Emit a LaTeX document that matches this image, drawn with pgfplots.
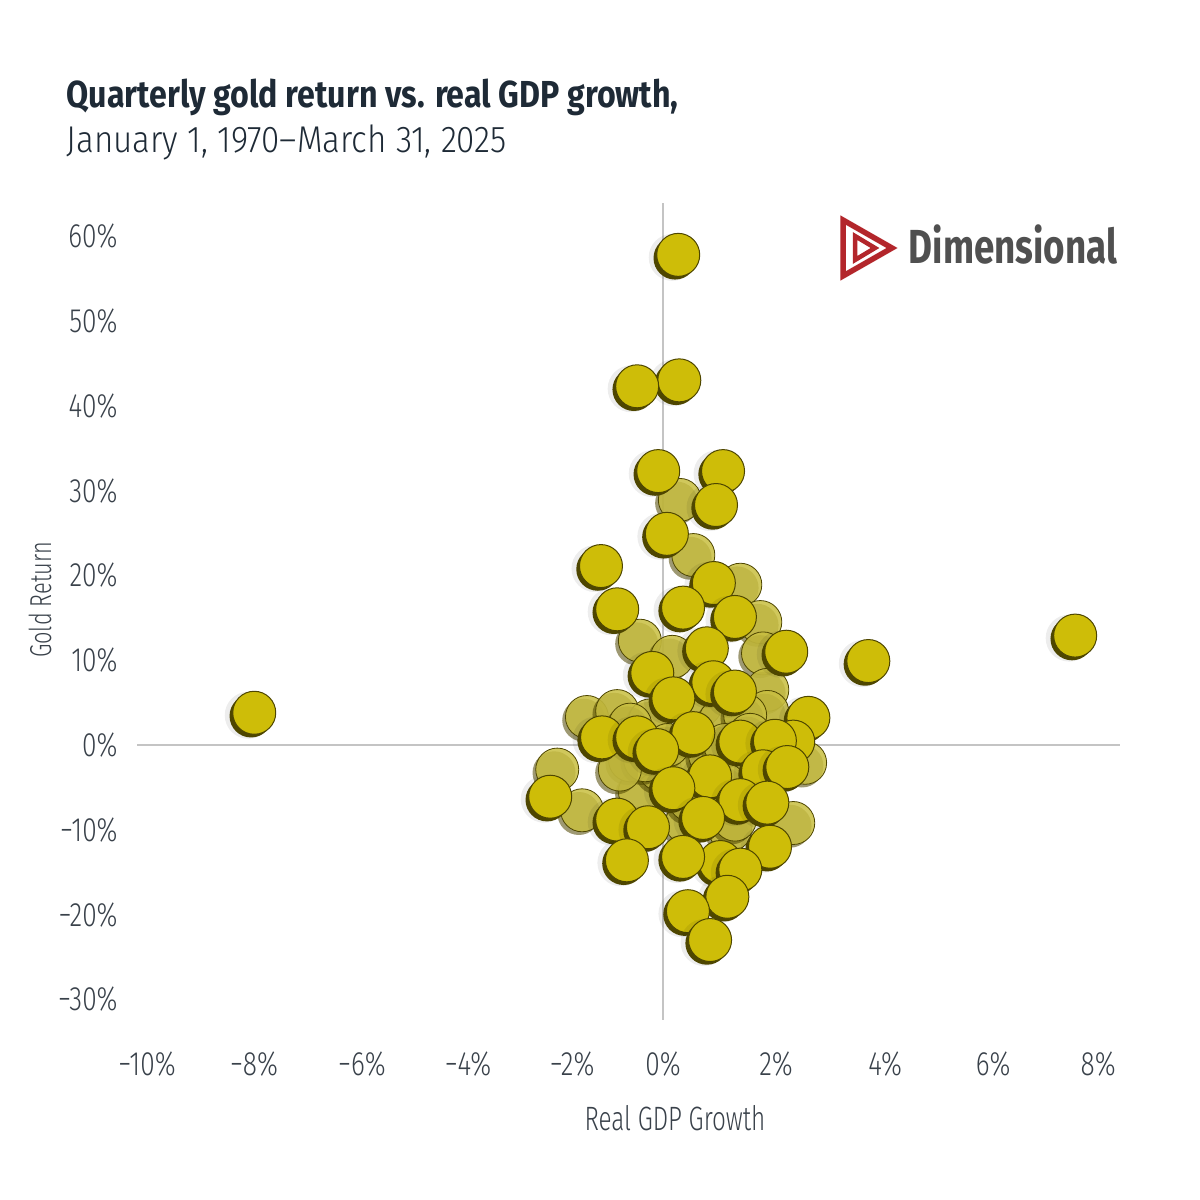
\documentclass[border=0pt]{standalone}
\usepackage{pgfplots}
\pgfplotsset{compat=1.18}
\usepackage{pgfplotstable}
\usepackage{fontspec}
\setmainfont{Fira Sans}[FakeStretch=0.76]
\IfFontExistsTF{Fira Sans Light}{%
  \newfontfamily\lightfont{Fira Sans Light}[FakeStretch=0.78]%
  \newfontfamily\subfont{Fira Sans Light}[FakeStretch=0.89]%
  \newfontfamily\labfont{Fira Sans Light}[FakeStretch=0.72]}{%
  \newfontfamily\lightfont{Fira Sans}[FakeStretch=0.78]%
  \newfontfamily\subfont{Fira Sans}[FakeStretch=0.89]%
  \newfontfamily\labfont{Fira Sans}[FakeStretch=0.72]}
\newfontfamily\titlefont{Fira Sans}[FakeStretch=0.855]
\newfontfamily\logofont{Fira Sans}[FakeStretch=0.77]
\definecolor{titlec}{HTML}{1E2A36}
\definecolor{textc}{HTML}{39414A}
\definecolor{zeroc}{HTML}{C4C4C4}
\definecolor{coinfill}{RGB}{206,189,8}
\definecolor{coindark}{RGB}{78,70,0}
\definecolor{fadefill}{RGB}{200,190,64}
\definecolor{logored}{HTML}{B3262B}
\definecolor{logogray}{HTML}{505050}

\pgfdeclareplotmark{coinf}{%
  \begin{pgfscope}
  \pgfsetfillcolor{black}\pgfsetfillopacity{0.07}%
  \pgfpathcircle{\pgfpoint{-0.6mm}{-0.25mm}}{\pgfplotmarksize+0.2mm}\pgfusepath{fill}%
  \pgfsetfillopacity{1}%
  \pgfsetfillcolor{coindark}%
  \pgfpathcircle{\pgfpoint{-0.32mm}{-0.32mm}}{\pgfplotmarksize}\pgfusepath{fill}%
  \pgfsetfillcolor{coinfill}\pgfsetstrokecolor{coindark}\pgfsetlinewidth{0.1mm}%
  \pgfpathcircle{\pgfpointorigin}{\pgfplotmarksize}\pgfusepath{fill,stroke}%
  \end{pgfscope}}
\pgfdeclareplotmark{coinb}{%
  \begin{pgfscope}
  \pgfsetfillcolor{coindark}\pgfsetfillopacity{0.55}%
  \pgfpathcircle{\pgfpoint{-0.32mm}{-0.32mm}}{\pgfplotmarksize}\pgfusepath{fill}%
  \pgfsetfillopacity{0.85}%
  \pgfsetfillcolor{fadefill}\pgfsetstrokecolor{coindark}\pgfsetlinewidth{0.08mm}%
  \pgfpathcircle{\pgfpointorigin}{\pgfplotmarksize}\pgfusepath{fill,stroke}%
  \end{pgfscope}}

\pgfplotstableread{
x y
0.31 28.9
0.56 22.4
1.43 18.9
1.80 14.5
-0.43 12.3
1.85 10.8
0.17 10.4
-1.41 3.3
-0.85 4.0
1.93 6.5
1.93 3.9
2.63 -2.1
-1.96 -2.9
-1.50 -7.7
-0.43 -5.5
2.41 -9.2
0.44 -9.2
0.69 4.7
1.06 2.9
-0.24 2.9
1.52 -1.8
1.70 -6.5
-0.06 -2.9
1.24 -10.0
1.52 3.5
0.50 -1.8
-0.61 -1.8
-0.61 2.4
-0.33 -1.8
0.09 0.0
0.87 -1.2
1.15 0.0
1.61 1.2
0.78 -5.9
1.15 -4.7
1.33 -8.8
0.50 -6.5
1.80 -5.3
-0.80 -2.9
}\backpts

\pgfplotstableread{
x y
-7.57 3.8
7.63 12.9
3.80 9.9
0.28 57.8
0.30 43.0
-0.48 42.3
-0.09 32.3
1.11 32.3
0.98 28.3
0.07 24.9
-1.15 21.1
-0.85 16.0
0.94 19.1
0.37 16.2
1.33 15.1
2.28 11.0
0.81 11.4
-0.20 8.5
0.93 7.4
1.33 6.3
0.19 5.5
2.69 3.2
0.56 1.4
1.43 0.4
-1.13 0.9
-0.48 0.9
-0.11 -0.6
2.41 0.4
2.07 0.5
0.87 -3.7
1.85 -3.1
2.30 -2.6
0.19 -5.1
1.43 -6.5
1.93 -6.8
0.74 -8.6
1.98 -12.0
1.06 -13.8
1.43 -14.7
1.19 -17.9
0.46 -19.6
0.87 -23.0
0.37 -13.2
-2.09 -6.1
-0.85 -8.8
-0.28 -9.7
-0.67 -13.6
}\frontpts

\begin{document}
\begin{tikzpicture}[x=1mm,y=1mm]
\path[use as bounding box] (0,0) rectangle (120,120);
% titles
\node[anchor=base west, inner sep=0pt, text=titlec, font=\titlefont\bfseries\fontsize{10.7}{12}\selectfont] at (6.6,109.2) {Quarterly gold return vs. real GDP growth,};
\node[anchor=base west, inner sep=0pt, text=titlec, font=\subfont\fontsize{10.6}{12}\selectfont] at (6.6,104.8) {January 1, 1970–March 31, 2025};
% logo
\draw[logored, line width=0.55mm, line join=miter] (84.3,98.0) -- (89.2,95.2) -- (84.3,92.4) -- cycle;
\draw[logored, line width=0.45mm, line join=miter] (85.5,96.4) -- (87.5,95.2) -- (85.5,94.0) -- cycle;
\node[anchor=base west, inner sep=0pt, text=logogray, font=\logofont\bfseries\fontsize{13.6}{15}\selectfont] at (90.8,93.6) {Dimensional};
% axis titles
\node[text=textc, font=\labfont\fontsize{9.6}{11}\selectfont] at (67.5,8.2) {Real GDP Growth};
\node[text=textc, rotate=90, font=\labfont\fontsize{8.6}{10}\selectfont] at (4.0,60.0) {Gold Return};
\begin{axis}[
  at={(12.3mm,18.0mm)}, anchor=south west,
  scale only axis, width=99.7mm, height=81.7mm,
  xmin=-10, xmax=8.46, ymin=-32.43, ymax=63.92,
  axis line style={draw=none}, tick style={draw=none},
  clip=false,
  xtick={-10,-8,-6,-4,-2,0,2,4,6,8},
  xticklabels={\hspace*{4.8mm}−10\%,\hspace*{4.6mm}−8\%,\hspace*{4.6mm}−6\%,\hspace*{4.2mm}−4\%,\hspace*{3.4mm}−2\%,0\%,\hspace*{1.0mm}2\%,\hspace*{1.2mm}4\%,\hspace*{1.2mm}6\%,\hspace*{0.6mm}8\%},
  ytick={-30,-20,-10,0,10,20,30,40,50,60},
  yticklabels={−30\%,−20\%,−10\%,0\%,10\%,20\%,30\%,40\%,50\%,60\%},
  tick label style={text=textc, font=\lightfont\fontsize{9.6}{11}\selectfont},
  xticklabel style={yshift=-1.9mm},
  yticklabel style={xshift=0.7mm},
]
\draw[zeroc, line width=0.2mm] (axis cs:0,-32.43) -- (axis cs:0,63.92);
\draw[zeroc, line width=0.2mm] (axis cs:-9.74,0) -- (axis cs:8.46,0);
\addplot[only marks, mark=coinb, mark size=2.15mm] table {\backpts};
\addplot[only marks, mark=coinf, mark size=2.15mm] table {\frontpts};
\end{axis}
\end{tikzpicture}
\end{document}
